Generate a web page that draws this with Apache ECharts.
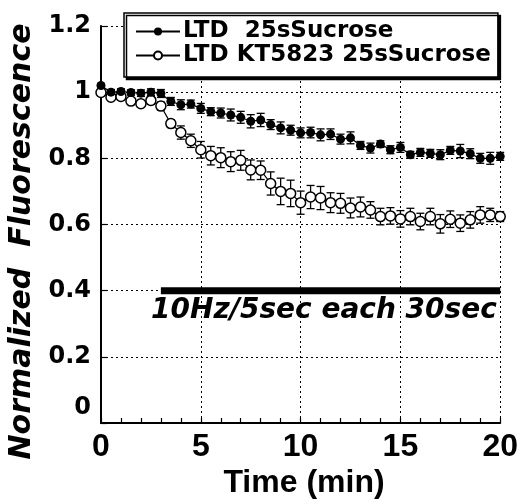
<!DOCTYPE html>
<html>
<head>
<meta charset="utf-8">
<script src="https://cdn.jsdelivr.net/npm/echarts@6/dist/echarts.min.js"></script>
<style>html,body{margin:0;padding:0;background:#fff;}#c{width:521px;height:504px;}</style>
</head>
<body>
<div id="c"></div>
<script>
// ---- data ----
var timeMin = [0,0.5,1,1.5,2,2.5,3,3.5,4,4.5,5,5.5,6,6.5,7,7.5,8,8.5,9,9.5,10,10.5,11,11.5,12,12.5,13,13.5,14,14.5,15,15.5,16,16.5,17,17.5,18,18.5,19,19.5,20];
var ltdMean = [1.02,1.0,1.002,0.999,0.997,1.0,0.996,0.972,0.962,0.964,0.951,0.941,0.937,0.931,0.924,0.912,0.916,0.902,0.892,0.885,0.877,0.878,0.871,0.873,0.858,0.862,0.839,0.831,0.843,0.826,0.833,0.811,0.818,0.815,0.811,0.824,0.822,0.814,0.800,0.800,0.806];
var ltdSem  = [0,0.008,0.008,0.008,0.01,0.01,0.012,0.012,0.015,0.012,0.015,0.012,0.015,0.018,0.018,0.02,0.02,0.015,0.018,0.015,0.015,0.016,0.018,0.016,0.015,0.018,0.012,0.015,0.01,0.012,0.015,0.01,0.012,0.012,0.015,0.012,0.02,0.015,0.015,0.018,0.012];
var ktMean  = [0.999,0.985,0.987,0.973,0.965,0.975,0.958,0.905,0.878,0.853,0.826,0.808,0.802,0.790,0.794,0.765,0.764,0.724,0.700,0.694,0.666,0.683,0.680,0.666,0.664,0.650,0.653,0.644,0.624,0.626,0.617,0.624,0.609,0.624,0.602,0.616,0.604,0.614,0.629,0.629,0.624];
var ktSem   = [0,0.008,0.01,0.01,0.01,0.012,0.012,0.012,0.02,0.02,0.025,0.028,0.03,0.03,0.03,0.03,0.028,0.035,0.04,0.04,0.035,0.035,0.035,0.03,0.03,0.03,0.03,0.025,0.025,0.025,0.025,0.025,0.025,0.025,0.028,0.025,0.025,0.025,0.025,0.02,0.015];
var stimStart = 3, stimEnd = 20, stimLevel = 0.4;
var seriesNames = ['LTD  25sSucrose', 'LTD KT5823 25sSucrose'];
var xTickLabels = ['0','5','10','15','20'];
var yTickLabels = ['0','0.2','0.4','0.6','0.8','1','1.2'];
var xTitle = 'Time (min)';
var yTitle = 'Normalized  Fluorescence';
var stimText = '10Hz/5sec each 30sec';

// ---- build ----
function pairs(xs, ys){ return xs.map(function(x,i){ return [x, ys[i]]; }); }
function errData(xs, m, s){ return xs.map(function(x,i){ return [x, m[i]-s[i], m[i]+s[i]]; }); }
function errRender(params, api){
  var lo = api.coord([api.value(0), api.value(1)]);
  var hi = api.coord([api.value(0), api.value(2)]);
  var w = 4;
  var st = {stroke:'#000', lineWidth:1.3};
  return {type:'group', children:[
    {type:'line', shape:{x1:lo[0],y1:lo[1],x2:hi[0],y2:hi[1]}, style:st},
    {type:'line', shape:{x1:lo[0]-w,y1:lo[1],x2:lo[0]+w,y2:lo[1]}, style:st},
    {type:'line', shape:{x1:hi[0]-w,y1:hi[1],x2:hi[0]+w,y2:hi[1]}, style:st}
  ]};
}
var dotted = {color:'#000', width:1, type:[2,3]};
var chart = echarts.init(document.getElementById('c'), null, {renderer:'canvas'});
chart.setOption({
  animation:false,
  backgroundColor:'#fff',
  grid:{left:101, right:20, top:26, bottom:81},
  xAxis:{type:'value', min:0, max:20, interval:5,
    axisLine:{lineStyle:{color:'#000', width:2}},
    axisTick:{inside:true, length:5, lineStyle:{color:'#000', width:1.2}},
    minorTick:{show:true, splitNumber:5, length:5, lineStyle:{color:'#000', width:1.2}},
    splitLine:{show:true, lineStyle:dotted},
    axisLabel:{margin:8, color:'#000', fontFamily:'Liberation Sans', fontWeight:'bold', fontSize:32,
      formatter:function(v){ return xTickLabels[Math.round(v/5)]; }}
  },
  yAxis:{type:'value', min:0, max:1.2, interval:0.2,
    axisLine:{show:true, lineStyle:{color:'#000', width:2}},
    axisTick:{show:true, inside:true, length:6, lineStyle:{color:'#000', width:1.2}},
    splitLine:{show:true, lineStyle:dotted},
    axisLabel:{margin:10, color:'#000', fontFamily:'DejaVu Sans', fontWeight:'bold', fontSize:24,
      formatter:function(v){ var i=Math.round(v/0.2); return i===0 ? '{z|'+yTickLabels[0]+'}' : yTickLabels[i]; },
      rich:{z:{fontFamily:'DejaVu Sans', fontWeight:'bold', fontSize:24, color:'#000', padding:[0,0,30,0]}}}
  },
  legend:{data:seriesNames, orient:'vertical', left:124, top:13,
    padding:[7,7,10,11], itemGap:1, itemWidth:44, itemHeight:10,
    backgroundColor:'#fff', borderColor:'#000', borderWidth:1.5,
    shadowColor:'#000', shadowBlur:0, shadowOffsetX:2.5, shadowOffsetY:2.5,
    textStyle:{color:'#000', fontFamily:'DejaVu Sans', fontWeight:'bold', fontSize:23, padding:[0,0,0,-2]}},
  graphic:[
    {type:'text', x:22.5, y:241.5, rotation:Math.PI/2,
      style:{text:yTitle, fill:'#000', font:'italic bold 30px "DejaVu Sans"', textAlign:'center', textVerticalAlign:'middle'}},
    {type:'text', x:304, y:483,
      style:{text:xTitle, fill:'#000', font:'bold 32px "Liberation Sans"', textAlign:'center', textVerticalAlign:'middle'}},
    {type:'text', x:151, y:311,
      style:{text:stimText, fill:'#000', font:'italic bold 28px "DejaVu Sans"', textAlign:'left', textVerticalAlign:'middle'}}
  ],
  series:[
    {type:'line', name:'stim', data:[[stimStart,stimLevel],[stimEnd,stimLevel]], symbol:'none',
      lineStyle:{color:'#000', width:7}, z:3, silent:true},
    {type:'custom', name:'ltdErr', data:errData(timeMin, ltdMean, ltdSem), renderItem:errRender, z:4, clip:false},
    {type:'custom', name:'ktErr', data:errData(timeMin, ktMean, ktSem), renderItem:errRender, z:4, clip:false},
    {type:'line', name:seriesNames[0], data:pairs(timeMin, ltdMean), symbol:'circle', symbolSize:9,
      itemStyle:{color:'#000'}, lineStyle:{color:'#000', width:1.2}, z:6, clip:false},
    {type:'line', name:seriesNames[1], data:pairs(timeMin, ktMean), symbol:'circle', symbolSize:10,
      itemStyle:{color:'#fff', borderColor:'#000', borderWidth:1.5}, lineStyle:{color:'#000', width:1.2}, z:5, clip:false}
  ]
});
</script>
</body>
</html>
